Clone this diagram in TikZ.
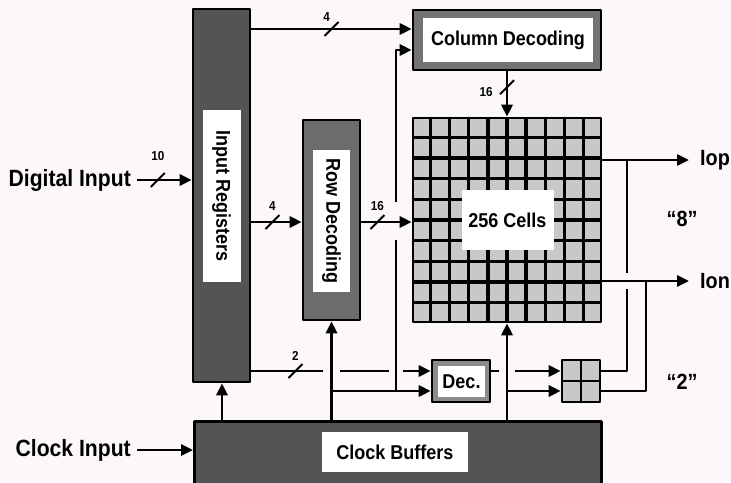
\documentclass[tikz,border=0pt]{standalone}
\usepackage{fontspec}
\setmainfont[FakeStretch=0.9]{Liberation Sans}
\usetikzlibrary{arrows.meta,calc}
\definecolor{bgpink}{RGB}{252,247,251}
\definecolor{darkfill}{RGB}{84,84,84}
\definecolor{midfill}{RGB}{108,108,108}
\definecolor{rimgray}{RGB}{115,115,115}
\definecolor{decgray}{RGB}{140,140,140}
\definecolor{cellgray}{RGB}{200,200,200}
\tikzset{
  box/.style={draw, line width=2.6pt, inner sep=0pt},
  whitebox/.style={fill=white, inner sep=0pt, font=\fontsize{20}{22}\selectfont\bfseries},
  sidelbl/.style={inner sep=0pt, font=\fontsize{23.5}{26}\selectfont\bfseries},
  outlbl/.style={inner sep=0pt, font=\fontsize{22}{24}\selectfont\bfseries},
  numlbl/.style={inner sep=1pt, font=\fontsize{13}{14}\selectfont\bfseries},
  wire/.style={line width=2.8pt},
  pics/buswidth/.style={code={\draw[line width=2pt,-] (-7,7) -- (7,-7);}},
}
\begin{document}
\begin{tikzpicture}[x=1pt, y=-1pt, >={Triangle[length=12pt,width=11pt]}, line join=round]
	\fill[bgpink] (0,0) rectangle (731,482);
	\useasboundingbox (0,0) rectangle (731,482);
	% rows and columns of the wiring
	\coordinate (rTop) at (0,29);   \coordinate (rCol) at (0,50);
	\coordinate (rIop) at (0,160);  \coordinate (rMid) at (0,222);
	\coordinate (rIon) at (0,281);  \coordinate (rBus) at (0,371);
	\coordinate (rLow) at (0,391);
	\coordinate (cA) at (222,0);    \coordinate (cTap) at (396,0);
	\coordinate (cO1) at (627,0);   \coordinate (cO2) at (646,0);
	% blocks
	\node[box, fill=darkfill, minimum width=57, minimum height=373] (inreg) at (221.5,195.5) {};
	\node[whitebox, rotate=-90, minimum width=172, minimum height=38] (inregtxt) at (221.5,196) {Input Registers};
	\node[box, fill=midfill, minimum width=57, minimum height=200] (rowdec) at (331.5,220) {};
	\node[whitebox, rotate=-90, minimum width=142, minimum height=37] (rowdectxt) at (331.5,221) {Row Decoding};
	\node[box, fill=rimgray, minimum width=188, minimum height=60] (coldec) at (507,40) {};
	\node[whitebox, minimum width=170, minimum height=44] (coldectxt) at (508,40) {Column Decoding};
	\node[box, fill=cellgray, minimum width=188, minimum height=204] (cells) at (507,220) {};
	\foreach \i in {1,...,9}{
		\draw[line width=3.2pt] ($(cells.north west)!\i/10!(cells.north east)$) -- ($(cells.south west)!\i/10!(cells.south east)$);
		\draw[line width=3.2pt] ($(cells.north west)!\i/10!(cells.south west)$) -- ($(cells.north east)!\i/10!(cells.south east)$);
	}
	\node[whitebox, minimum width=92, minimum height=60] (cellstxt) at (507.5,220) {256 Cells};
	\node[box, fill=decgray, minimum width=58, minimum height=42] (dec) at (461,381) {};
	\node[whitebox, minimum width=47, minimum height=31] (dectxt) at (461.5,381.5) {Dec.};
	\node[box, fill=cellgray, minimum width=38, minimum height=42] (mux) at (581,381) {};
	\draw[line width=2.6pt] (mux.north) -- (mux.south) (mux.west) -- (mux.east);
	\node[box, fill=darkfill, minimum width=407, minimum height=66, anchor=north west] (clkbuf) at (193,420) {};
	\node[whitebox, minimum width=146, minimum height=40] (clkbuftxt) at (395,452) {Clock Buffers};
	% outside labels
	\node[sidelbl, anchor=east] (din) at (131,180) {Digital Input};
	\node[sidelbl, anchor=east] (clkin) at (131,450) {Clock Input};
	\node[outlbl, anchor=west] (iop) at (700,160) {Iop};
	\node[outlbl, anchor=west] (ion) at (700,281) {Ion};
	\node[outlbl] (eight) at (682,219) {“8”};
	\node[outlbl] (two) at (682,382) {“2”};
	% inputs
	\draw[wire,->] ([xshift=6pt]din.east) -- (inreg.west |- din.east)
		pic[pos=.38]{buswidth} node[numlbl, pos=.38, above=17pt]{10};
	\draw[wire,->] ([xshift=6pt]clkin.east) -- (clkbuf.west |- clkin.east);
	% buses
	\draw[wire,->] (inreg.east |- rTop) -- (coldec.west |- rTop)
		pic[pos=.5]{buswidth} node[numlbl, pos=.5, above=5pt, xshift=-5pt]{4};
	\draw[wire,->] (inreg.east |- rMid) -- (rowdec.west |- rMid)
		pic[pos=.42]{buswidth} node[numlbl, pos=.42, above=9pt]{4};
	\draw[wire,->] (rowdec.east |- rMid) -- (cells.west |- rMid)
		pic[pos=.32]{buswidth} node[numlbl, pos=.32, above=9pt]{16};
	\draw[wire,->] (coldec.south) -- (cells.north)
		pic[pos=.35]{buswidth} node[numlbl, pos=.35, left=12pt, yshift=-5pt]{16};
	\draw[wire] (inreg.east |- rBus) -- ($(rowdec.south |- rBus)+(-9,0)$)
		pic[pos=.62]{buswidth} node[numlbl, pos=.62, above=8pt]{2};
	\draw[wire] ($(rowdec.south |- rBus)+(8,0)$) -- ($(cTap |- rBus)+(-7,0)$);
	\draw[wire,->] ($(cTap |- rBus)+(7,0)$) -- (dec.west |- rBus);
	% clock distribution
	\draw[wire,->] (clkbuf.north -| cA) -- (inreg.south -| cA);
	\draw[wire,->] (clkbuf.north -| rowdec.south) -- (rowdec.south);
	\draw[wire,->] (clkbuf.north -| cells.south) -- (cells.south);
	\draw[wire,->] (rowdec.south |- rLow) -- (dec.west |- rLow);
	\draw[wire] (cTap |- rLow) -- ($(cTap |- rMid)+(0,18)$);
	\draw[wire,->] ($(cTap |- rMid)+(0,-20)$) -- (cTap |- rCol) -- (coldec.west |- rCol);
	\draw[wire,->] (cells.south |- rLow) -- (mux.west |- rLow);
	% decoder to output switch
	\draw[wire] (dec.east |- rBus) -- ($(cells.south |- rBus)+(-8,0)$);
	\draw[wire,->] ($(cells.south |- rBus)+(8,0)$) -- (mux.west |- rBus);
	\draw[wire] (mux.east |- rBus) -- (cO1 |- rBus) -- ($(cO1 |- rIon)+(0,8)$);
	\draw[wire] ($(cO1 |- rIon)+(0,-8)$) -- (cO1 |- rIop);
	\draw[wire] (mux.east |- rLow) -- (cO2 |- rLow) -- (cO2 |- rIon);
	% outputs
	\draw[wire,->] (cells.east |- rIop) -- ([xshift=-11pt]iop.west);
	\draw[wire,->] (cells.east |- rIon) -- ([xshift=-11pt]ion.west);
\end{tikzpicture}
\end{document}
